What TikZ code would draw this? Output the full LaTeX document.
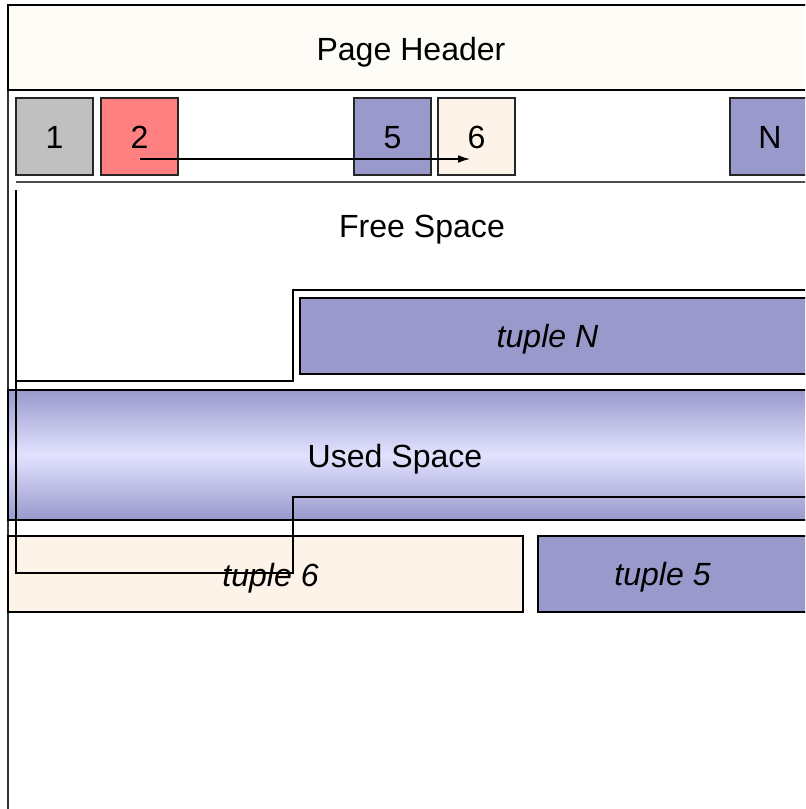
\documentclass[tikz,border=0pt]{standalone}
\usepackage{fontspec}
\setmainfont{Liberation Sans}
\usetikzlibrary{arrows.meta}
\definecolor{hdrcream}{RGB}{253,252,247}
\definecolor{slotgray}{RGB}{192,192,192}
\definecolor{slotred}{RGB}{255,128,128}
\definecolor{tuplepurple}{RGB}{153,153,204}
\definecolor{tuplecream}{RGB}{254,243,232}
\definecolor{usedlight}{RGB}{226,226,255}
\tikzset{
  box/.style={draw=black, line width=1.4pt},
  slotbox/.style={draw=black!85, line width=1.1pt},
  edge/.style={draw=black, line width=1.2pt},
  ptr/.style={draw=black, line width=1pt},
  txt/.style={anchor=base, inner sep=0pt},
}
\begin{document}
\begin{tikzpicture}[x=0.025cm, y=-0.025cm, font=\fontsize{22.8}{27}\selectfont]
  \useasboundingbox (0,0) rectangle (805,809);
  \clip (0,0) rectangle (805,809);
  \fill[white] (0,0) rectangle (805,809);
  % page and header
  \draw[box, draw=black!80] (8,5) rectangle (815,830);
  \draw[box, fill=hdrcream] (8,5) rectangle (815,90);
  % slot array
  \draw[slotbox, fill=slotgray] (16,98) rectangle (93,175);
  \draw[slotbox, fill=slotred] (101,98) rectangle (178,175);
  \draw[slotbox, fill=tuplepurple] (354,98) rectangle (431,175);
  \draw[slotbox, fill=tuplecream] (438,98) rectangle (515,175);
  \draw[slotbox, fill=tuplepurple] (730,98) rectangle (815,175);
  \coordinate (from2) at (140,159);
  \coordinate (to6) at (470,159);
  \draw[ptr, -{Latex[length=8.5pt,width=5.5pt]}] (from2) -- (to6);
  \draw[edge, draw=black!70] (16,182) -- (815,182);
  % tuples and used space
  \draw[box, fill=tuplepurple] (300,298) rectangle (815,374);
  \draw[box, top color=tuplepurple, bottom color=tuplepurple, middle color=usedlight] (8,390) rectangle (815,520);
  \draw[box, fill=tuplecream] (8,536) rectangle (523,612);
  \draw[box, fill=tuplepurple] (538,536) rectangle (815,612);
  % free space boundary and pointers
  \draw[edge] (16,381) -- (293,381) -- (293,290) -- (815,290);
  \draw[ptr] (16,190) -- (16,573) -- (293,573) -- (293,497) -- (815,497);
  % labels
  \node[txt] (hdr) at (411,60) {Page Header};
  \node[txt] (s1) at (54.5,148) {1};
  \node[txt] (s2) at (139.5,148) {2};
  \node[txt] (s5) at (392.5,148) {5};
  \node[txt] (s6) at (476.5,148) {6};
  \node[txt] (sN) at (770,148) {N};
  \node[txt] (free) at (422,237) {Free Space};
  \node[txt] (tupN) at (547.5,347) {\itshape tuple N};
  \node[txt] (used) at (395,467) {Used Space};
  \node[txt] (tup6) at (270.5,586.5) {\itshape tuple 6};
  \node[txt] (tup5) at (662.5,585) {\itshape tuple 5};
\end{tikzpicture}
\end{document}
